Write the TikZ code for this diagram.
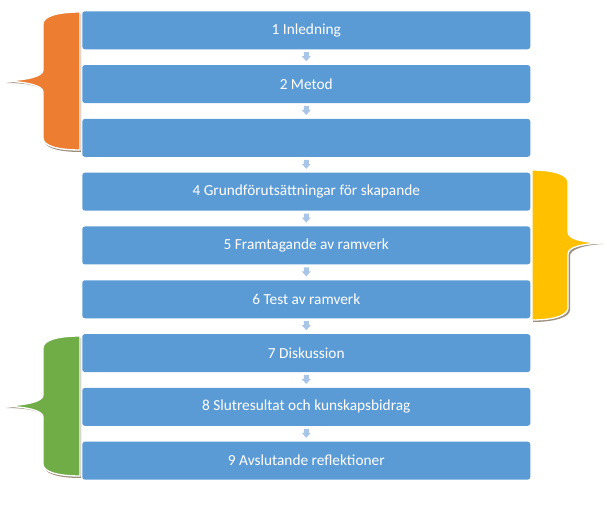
\documentclass[tikz,border=0pt]{standalone}
\usepackage{fontspec}
\setmainfont{Carlito}
\definecolor{bx}{HTML}{5B9BD5}
\definecolor{orb}{HTML}{ED7D31}
\definecolor{ylb}{HTML}{FFC000}
\definecolor{grb}{HTML}{70AD47}
\definecolor{arw}{HTML}{A9C5E8}
\definecolor{shd}{HTML}{9C8F7C}
\begin{document}
\begin{tikzpicture}[x=0.75pt,y=-0.75pt,
  stepbox/.style={fill=bx,rounded corners=2pt,minimum width=336pt,minimum height=28.5pt,inner sep=0pt,text=white,font=\fontsize{11.5}{13}\selectfont,anchor=north west},
  brc/.style={draw=white,line width=1pt}]
\useasboundingbox (0,0) rectangle (607,513);
\foreach \i/\t [count=\k from 0] in {a/1 Inledning,b/2 Metod,c/,d/4 Grundförutsättningar för skapande,e/5 Framtagande av ramverk,f/6 Test av ramverk,g/7 Diskussion,h/8 Slutresultat och kunskapsbidrag,i/9 Avslutande reflektioner}{
  \node[stepbox] (\i) at (82,{11+53.8*\k}) {\t};
}
\foreach \u/\v in {a/b,b/c,c/d,d/e,e/f,f/g,g/h,h/i}{
  \path (\u.south) -- (\v.north) coordinate[pos=0.5] (m\u);
  \fill[arw] ([shift={(-2.5,-5)}]m\u) -- ([shift={(2.5,-5)}]m\u) -- ([shift={(2.5,-1)}]m\u) -- ([shift={(4.5,-1)}]m\u) -- ([shift={(0,4)}]m\u) -- ([shift={(-4.5,-1)}]m\u) -- ([shift={(-2.5,-1)}]m\u) -- cycle;
}
% left brace macro-like paths
\foreach \top/\bot/\mid/\col in {12/150/81/orb,336/476/406/grb}{
  \fill[shd] (81,\top+2) -- (81,\bot+2) .. controls (56,\bot+2) and (44,\bot-3) .. (44,\bot-10) -- (44,\mid+12) .. controls (44,\mid+5) and (26,\mid+2) .. (6,\mid+2) .. controls (26,\mid) and (44,\mid-5) .. (44,\mid-12) -- (44,\top+14) -- cycle;
  \filldraw[brc,fill=\col] (80,\top) -- (80,\bot) .. controls (55,\bot) and (43,\bot-5) .. (43,\bot-12) -- (43,\mid+11) .. controls (43,\mid+4) and (25,\mid+1) .. (5,\mid) .. controls (25,\mid-1) and (43,\mid-4) .. (43,\mid-11) -- (43,\top+12) .. controls (43,\top+5) and (55,\top) .. (80,\top) -- cycle;
}
% right yellow brace
\fill[shd] (533,172) -- (533,322) .. controls (555,322) and (570,317) .. (570,310) -- (570,256) .. controls (570,249) and (585,245) .. (603,244) .. controls (585,244) and (570,242) .. (570,236) -- cycle;
\filldraw[brc,fill=ylb] (532,170) -- (532,320) .. controls (555,320) and (568,315) .. (568,308) -- (568,254) .. controls (568,247) and (582,244) .. (601,243) .. controls (582,242) and (568,239) .. (568,232) -- (568,182) .. controls (568,175) and (555,170) .. (532,170) -- cycle;
\end{tikzpicture}
\end{document}
